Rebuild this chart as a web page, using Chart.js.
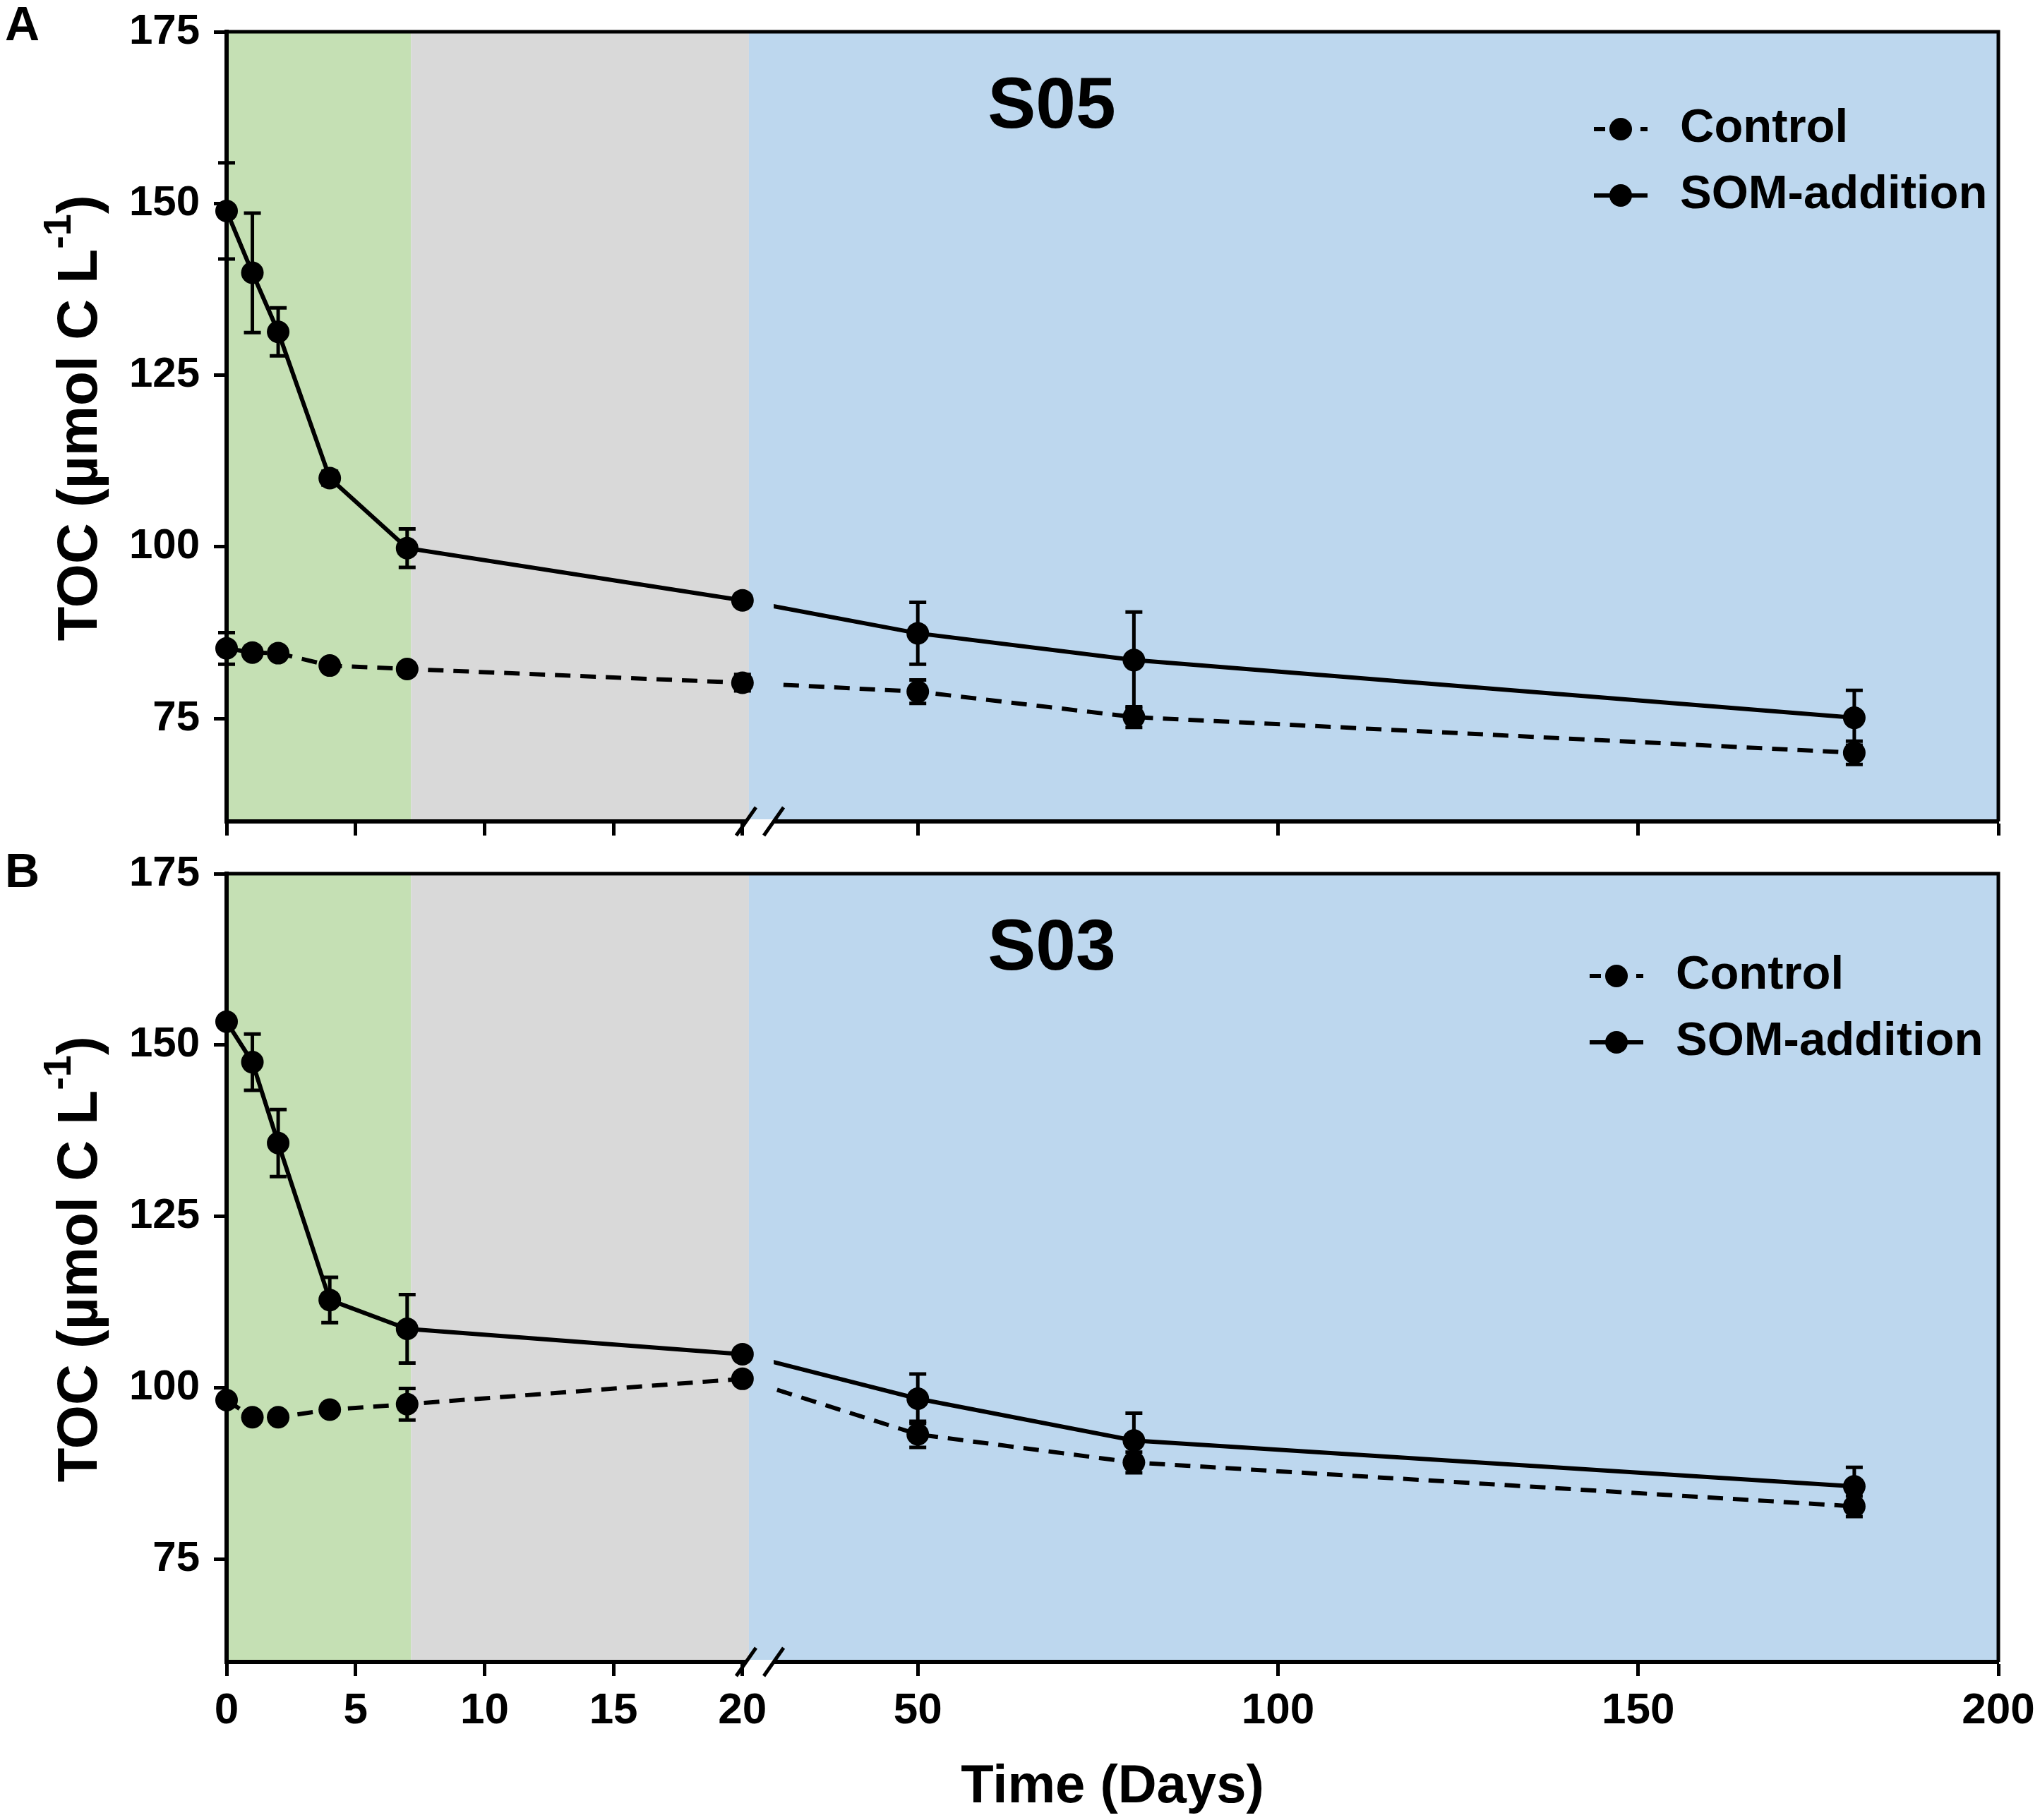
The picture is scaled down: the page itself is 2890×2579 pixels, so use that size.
<!DOCTYPE html>
<html>
<head>
<meta charset="utf-8">
<script src="https://cdn.jsdelivr.net/npm/chart.js@4.4.1/dist/chart.umd.min.js"></script>
<style>
  html, body { margin: 0; padding: 0; background: #fff; }
  canvas { display: block; }
</style>
</head>
<body>
<canvas id="chartA" width="2890" height="1200"></canvas>
<canvas id="chartB" width="2890" height="1379"></canvas>
<script>
// sampling days (x) and axis ticks
const days = [0, 1, 2, 4, 7, 20, 50, 80, 180];
const xTicks = [0, 5, 10, 15, 20, 50, 100, 150, 200];
const yTicks = [75, 100, 125, 150, 175];
// incubation phases: green / grey / blue
const phaseEdges = [0, 7.15, 20.25, 200];
const phaseColors = ['#C5E0B4', '#D9D9D9', '#BDD7EE'];

// S05 (panel A)
const s05Control = [85.2, 84.6, 84.5, 82.7, 82.2, 80.2, 78.9, 75.2, 70.0];
const s05ControlErr = [2.3, 0.6, 0.6, 0.6, 0.8, 1.2, 1.7, 1.5, 1.7];
const s05Som = [148.9, 139.9, 131.3, 110.0, 99.8, 92.2, 87.4, 83.5, 75.1];
const s05SomErr = [7.0, 8.7, 3.5, 1.0, 2.8, 0.5, 4.5, 7.0, 4.0];

// S03 (panel B)
const s03Control = [98.2, 95.7, 95.7, 96.8, 97.6, 101.3, 93.2, 89.1, 82.7];
const s03ControlErr = [0.8, 0.6, 0.6, 0.6, 2.3, 0.8, 1.9, 1.5, 1.5];
const s03Som = [153.4, 147.5, 135.7, 112.8, 108.6, 104.9, 98.4, 92.3, 85.6];
const s03SomErr = [0.5, 4.1, 4.9, 3.3, 5.0, 0.5, 3.6, 4.0, 2.8];

const FONT = "'Liberation Sans', Arial, sans-serif";
Chart.defaults.font.family = FONT;
Chart.defaults.color = '#000';

// broken x axis: 0-20.25 on the left part, 30-200 on the right part
const brk = { end1: 20.25, start2: 30, d1: 0.2948, d2: 0.3088 };

function toDecimal(v, lo, hi) {
  if (v <= brk.end1) return (v - lo) / (brk.end1 - lo) * brk.d1;
  if (v >= brk.start2) return brk.d2 + (v - brk.start2) / (hi - brk.start2) * (1 - brk.d2);
  return brk.d1 + (v - brk.end1) / (brk.start2 - brk.end1) * (brk.d2 - brk.d1);
}

class BrokenScale extends Chart.LinearScale {
  getPixelForValue(v) {
    if (v === null || v === undefined) return NaN;
    return this.getPixelForDecimal(toDecimal(v, this.min, this.max));
  }
  getValueForPixel(p) {
    const d = this.getDecimalForPixel(p);
    if (d <= brk.d1) return this.min + d / brk.d1 * (brk.end1 - this.min);
    if (d >= brk.d2) return brk.start2 + (d - brk.d2) / (1 - brk.d2) * (this.max - brk.start2);
    return brk.end1 + (d - brk.d1) / (brk.d2 - brk.d1) * (brk.start2 - brk.end1);
  }
}
BrokenScale.id = 'broken';
BrokenScale.defaults = Chart.LinearScale.defaults;
Chart.register(BrokenScale);

const pts = vals => days.map((d, i) => ({ x: d, y: vals[i] }));

const decor = {
  id: 'decor',
  beforeDraw(chart) {
    const { ctx, chartArea: a } = chart;
    const x = chart.scales.x;
    ctx.save();
    for (let i = 0; i < phaseColors.length; i++) {
      const x0 = x.getPixelForValue(phaseEdges[i]);
      const x1 = x.getPixelForValue(phaseEdges[i + 1]);
      ctx.fillStyle = phaseColors[i];
      ctx.fillRect(x0, a.top, x1 - x0, a.bottom - a.top);
    }
    ctx.restore();
  },
  beforeDatasetDraw(chart, args) {
    if (!chart.data.datasets[args.index].breakClip) return;
    // hide the part of the line that crosses the axis break
    const { ctx, chartArea: a } = chart;
    const x = chart.scales.x;
    const g0 = x.getPixelForValue(brk.end1);
    const g1 = x.getPixelForValue(brk.start2);
    ctx.save();
    ctx.beginPath();
    ctx.rect(a.left - 20, a.top, g0 - a.left + 20, a.bottom - a.top);
    ctx.rect(g1, a.top, a.right - g1 + 20, a.bottom - a.top);
    ctx.clip();
  },
  afterDatasetDraw(chart, args) {
    if (chart.data.datasets[args.index].breakClip) chart.ctx.restore();
  },
  afterDatasetsDraw(chart) {
    const { ctx } = chart;
    const y = chart.scales.y;
    ctx.save();
    ctx.strokeStyle = '#000';
    ctx.lineWidth = 5;
    chart.data.datasets.forEach((ds, i) => {
      if (!ds.errors) return;
      const meta = chart.getDatasetMeta(i);
      meta.data.forEach((p, j) => {
        const v = ds.data[j].y, e = ds.errors[j];
        const yt = y.getPixelForValue(v + e), yb = y.getPixelForValue(v - e);
        ctx.beginPath();
        ctx.moveTo(p.x, yt); ctx.lineTo(p.x, yb);
        ctx.moveTo(p.x - 12, yt); ctx.lineTo(p.x + 12, yt);
        ctx.moveTo(p.x - 12, yb); ctx.lineTo(p.x + 12, yb);
        ctx.stroke();
      });
    });
    ctx.restore();
  },
  afterDraw(chart, args, opts) {
    const { ctx, chartArea: a } = chart;
    const x = chart.scales.x;
    ctx.save();
    ctx.strokeStyle = '#000';
    ctx.fillStyle = '#000';

    // frame top + right
    ctx.lineWidth = 5;
    ctx.beginPath();
    ctx.moveTo(a.left, a.top);
    ctx.lineTo(a.right, a.top);
    ctx.lineTo(a.right, a.bottom);
    ctx.stroke();

    // axis break marks
    const xa = x.getPixelForValue(brk.end1) - 4;
    const xb = x.getPixelForValue(brk.start2);
    ctx.fillStyle = '#fff';
    ctx.fillRect(xa, a.bottom - 3, xb - xa, 8);
    ctx.lineWidth = 5;
    [xa, xb].forEach(sx => {
      ctx.beginPath();
      ctx.moveTo(sx - 14, a.bottom + 20);
      ctx.lineTo(sx + 14, a.bottom - 20);
      ctx.stroke();
    });
    ctx.fillStyle = '#000';

    // panel title
    ctx.font = 'bold 102px ' + FONT;
    ctx.textAlign = 'center';
    ctx.textBaseline = 'middle';
    ctx.fillText(opts.title, 1490, a.top + 108);

    // legend
    const mx = a.right - 535 - opts.legendDx;
    const rows = [
      { label: 'Control', dash: [22, 14], y: a.top + 138 + opts.legendDy },
      { label: 'SOM-addition', dash: [], y: a.top + 232 + opts.legendDy }
    ];
    rows.forEach(r => {
      ctx.lineWidth = 6;
      ctx.setLineDash(r.dash);
      ctx.lineDashOffset = r.dash.length ? 6 : 0;
      ctx.beginPath();
      ctx.moveTo(mx - 38, r.y);
      ctx.lineTo(mx + 38, r.y);
      ctx.stroke();
      ctx.setLineDash([]);
      ctx.beginPath();
      ctx.arc(mx, r.y, 16, 0, Math.PI * 2);
      ctx.fill();
      ctx.font = 'bold 67px ' + FONT;
      ctx.textAlign = 'left';
      ctx.textBaseline = 'middle';
      ctx.fillText(r.label, mx + 84, r.y);
    });

    // y axis title with superscript
    const cy = (a.top + a.bottom) / 2 - 12;
    ctx.translate(137, cy);
    ctx.rotate(-Math.PI / 2);
    ctx.textAlign = 'left';
    ctx.textBaseline = 'alphabetic';
    const main = 'TOC (µmol C L', sup = '-1', close = ')';
    const big = 'bold 80px ' + FONT, small = 'bold 56px ' + FONT;
    ctx.font = big;
    const w1 = ctx.measureText(main).width, w3 = ctx.measureText(close).width;
    ctx.font = small;
    const w2 = ctx.measureText(sup).width;
    let tx = -(w1 + w2 + w3) / 2;
    ctx.font = big;
    ctx.fillText(main, tx, 0);
    tx += w1;
    ctx.font = small;
    ctx.fillText(sup, tx, -37);
    tx += w2;
    ctx.font = big;
    ctx.fillText(close, tx, 0);
    ctx.restore();

    // panel letter
    ctx.save();
    ctx.font = 'bold 68px ' + FONT;
    ctx.textAlign = 'left';
    ctx.textBaseline = 'alphabetic';
    ctx.fillStyle = '#000';
    ctx.fillText(opts.letter, 7, 57);
    ctx.restore();
  }
};

function makePanel(id, cfg) {
  const lineBase = { borderColor: '#000', borderWidth: 6, pointRadius: 0, tension: 0, fill: false, breakClip: true };
  const pointBase = { showLine: false, pointRadius: 16, pointHoverRadius: 16, pointBackgroundColor: '#000', pointBorderWidth: 0, clip: false };
  return new Chart(document.getElementById(id), {
    type: 'line',
    data: {
      datasets: [
        Object.assign({ label: 'Control', data: pts(cfg.control), borderDash: [22, 14] }, lineBase),
        Object.assign({ label: 'SOM-addition', data: pts(cfg.som) }, lineBase),
        Object.assign({ label: 'Control', data: pts(cfg.control), errors: cfg.controlErr }, pointBase),
        Object.assign({ label: 'SOM-addition', data: pts(cfg.som), errors: cfg.somErr }, pointBase)
      ]
    },
    options: {
      responsive: false,
      devicePixelRatio: 1,
      animation: false,
      events: [],
      layout: { padding: { top: cfg.padTop, right: 59, left: 0, bottom: 0 } },
      plugins: {
        legend: { display: false },
        tooltip: { enabled: false },
        decor: { title: cfg.title, letter: cfg.letter, legendDx: cfg.legendDx, legendDy: cfg.legendDy }
      },
      scales: {
        x: {
          type: 'broken',
          min: 0,
          max: 200,
          afterBuildTicks: s => { s.ticks = xTicks.map(v => ({ value: v })); },
          afterFit: s => { s.height = cfg.xHeight; s.paddingLeft = 0; s.paddingRight = 0; },
          ticks: {
            display: cfg.showX,
            autoSkip: false,
            maxRotation: 0,
            padding: 13,
            font: { size: 62, weight: 'bold' },
            callback: v => String(v)
          },
          grid: { drawOnChartArea: false, drawTicks: true, tickLength: 20, tickWidth: 5, tickColor: '#000' },
          border: { display: true, color: '#000', width: 6 },
          title: {
            display: cfg.showX,
            text: 'Time (Days)',
            font: { size: 76, weight: 'bold' },
            padding: { top: 0, bottom: 0 }
          }
        },
        y: {
          min: 60,
          max: 175,
          afterBuildTicks: s => { s.ticks = yTicks.map(v => ({ value: v })); },
          afterFit: s => { s.width = 321; s.paddingTop = 0; s.paddingBottom = 0; },
          ticks: { padding: 20, font: { size: 60, weight: 'bold' }, callback: v => String(v) },
          grid: { drawOnChartArea: false, drawTicks: true, tickLength: 18, tickWidth: 5, tickColor: '#000' },
          border: { display: true, color: '#000', width: 6 }
        }
      }
    },
    plugins: [decor]
  });
}

makePanel('chartA', {
  title: 'S05', letter: 'A', showX: false, padTop: 45, xHeight: 36, legendDx: 0, legendDy: 0,
  control: s05Control, controlErr: s05ControlErr, som: s05Som, somErr: s05SomErr
});
makePanel('chartB', {
  title: 'S03', letter: 'B', showX: true, padTop: 38, xHeight: 224, legendDx: 6, legendDy: 7,
  control: s03Control, controlErr: s03ControlErr, som: s03Som, somErr: s03SomErr
});
</script>
</body>
</html>
